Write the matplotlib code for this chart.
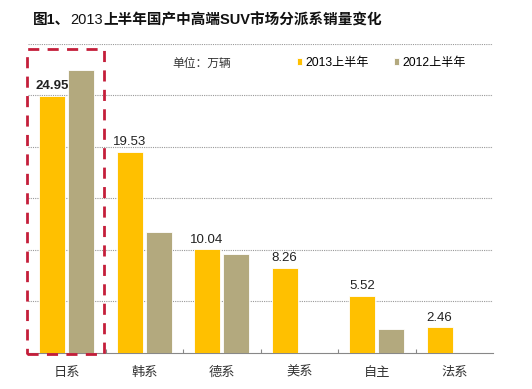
import matplotlib.pyplot as plt
import numpy as np
from matplotlib.patches import Rectangle

plt.rcParams['font.family'] = ['Noto Sans CJK SC', 'DejaVu Sans']
MIXED = ['Liberation Sans', 'Noto Sans CJK SC']

categories = ['日系', '韩系', '德系', '美系', '自主', '法系']
sales_2013 = [24.95, 19.53, 10.04, 8.26, 5.52, 2.46]
sales_2012 = [27.45, 11.7, 9.55, 0, 2.3, 0]
labels_2013 = ['24.95', '19.53', '10.04', '8.26', '5.52', '2.46']

YELLOW = '#FFC000'
KHAKI = '#B3A97E'

fig = plt.figure(figsize=(5.32, 3.89), dpi=100)
ax = fig.add_axes([28 / 532, 1 - 352.7 / 389, 465 / 532, (352.7 - 44) / 389])

x = np.arange(len(categories))
w = 0.335
ax.bar(x - 0.19, sales_2013, w, color=YELLOW, edgecolor='white', linewidth=0.6,
       label='2013上半年', zorder=3)
ax.bar(x + 0.19, sales_2012, w, color=KHAKI, edgecolor='white', linewidth=0.6,
       label='2012上半年', zorder=3)

for i, (v, s) in enumerate(zip(sales_2013, labels_2013)):
    ax.text(x[i] - 0.19, v + 0.35, s, ha='center', va='bottom', fontsize=9.5,
            color='#222222', fontweight='bold' if i == 0 else 'normal',
            family=['Liberation Sans'])

ax.set_xlim(-0.5, len(categories) - 0.5)
ax.set_ylim(0, 30)
ax.set_yticks(np.arange(5, 31, 5))
ax.yaxis.grid(True, linestyle=(0, (1, 1)), color='#999999', linewidth=0.8)
ax.set_axisbelow(True)
ax.tick_params(axis='y', length=0, labelleft=False)
ax.set_xticks(np.arange(0.5, len(categories) - 0.5, 1))
ax.set_xticklabels([])
ax.tick_params(axis='x', length=3, direction='in', color='#888888')
for i, c in enumerate(categories):
    ax.text(x[i], -1.3, c, ha='center', va='top', fontsize=9.5, color='#333333')
for sp in ['top', 'right', 'left']:
    ax.spines[sp].set_visible(False)
ax.spines['bottom'].set_color('#888888')

# red dashed highlight box around 日系
box = Rectangle((-0.51, -0.15), 0.985, 29.7, fill=False, edgecolor='#C41E3A',
                linestyle=(0, (4, 3)), linewidth=2, clip_on=False, zorder=5)
ax.add_patch(box)

fig.text(172 / 532, 1 - 63 / 389, '单位：万辆', fontsize=8.5, color='#333333', va='center')
leg = ax.legend(loc='upper left', bbox_to_anchor=(258 / 465, 1 - 2 / 308.7),
                ncol=2, frameon=False, handlelength=0.45, handleheight=0.45,
                columnspacing=2.0, handletextpad=0.3,
                prop={'family': MIXED, 'size': 8.7})

# title: bold text with regular-weight digits
title_parts = [('图1、', 'bold'), ('2013', 'normal'),
               ('上半年国产中高端SUV市场分派系销量变化', 'bold')]
fig.canvas.draw()
r = fig.canvas.get_renderer()
tx = 33 / 532
for s, wt in title_parts:
    t = fig.text(tx, 1 - 20 / 389, s, fontsize=10.5, fontweight=wt, va='center',
                 color='#111111', family=MIXED)
    bb = t.get_window_extent(renderer=r)
    tx += bb.width / fig.bbox.width

fig.savefig('out.png', dpi=100)
